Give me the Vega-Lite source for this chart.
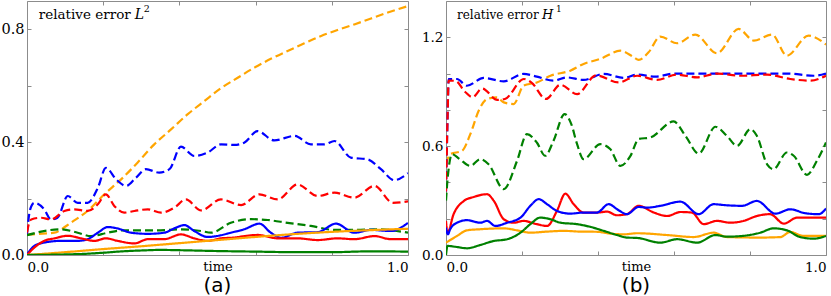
{
"$schema":"https://vega.github.io/schema/vega-lite/v6.json",
"padding":{"left":0,"top":0,"right":0,"bottom":0},
"background":"white",
"config":{"view":{"stroke":"#8c8c8c","strokeWidth":1},"font":"DejaVu Serif",
"axis":{"domain":false,"grid":false,"tickColor":"#8c8c8c","tickSize":-4,"labelColor":"black","labelFont":"DejaVu Serif","titleFont":"DejaVu Serif"},
"title":{"font":"DejaVu Sans","fontSize":20,"fontWeight":"normal","orient":"bottom","color":"black","offset":2},
"concat":{"spacing":10}},
"datasets":{
"a":[
{"k":"od","t":0,"v":0.073},{"k":"od","t":0.01,"v":0.073},{"k":"od","t":0.04,"v":0.076},{"k":"od","t":0.072,"v":0.079},{"k":"od","t":0.1,"v":0.1},{"k":"od","t":0.115,"v":0.114},{"k":"od","t":0.159,"v":0.156},{"k":"od","t":0.203,"v":0.215},{"k":"od","t":0.247,"v":0.268},{"k":"od","t":0.29,"v":0.327},{"k":"od","t":0.334,"v":0.392},{"k":"od","t":0.378,"v":0.445},{"k":"od","t":0.422,"v":0.499},{"k":"od","t":0.466,"v":0.546},{"k":"od","t":0.509,"v":0.591},{"k":"od","t":0.553,"v":0.628},{"k":"od","t":0.597,"v":0.664},{"k":"od","t":0.64,"v":0.695},{"k":"od","t":0.684,"v":0.723},{"k":"od","t":0.728,"v":0.75},{"k":"od","t":0.772,"v":0.776},{"k":"od","t":0.815,"v":0.797},{"k":"od","t":0.859,"v":0.817},{"k":"od","t":0.903,"v":0.838},{"k":"od","t":0.947,"v":0.859},{"k":"od","t":1,"v":0.882},
{"k":"bd","t":0,"v":0.075},{"k":"bd","t":0.008,"v":0.16},{"k":"bd","t":0.019,"v":0.185},{"k":"bd","t":0.045,"v":0.162},{"k":"bd","t":0.063,"v":0.126},{"k":"bd","t":0.08,"v":0.132},{"k":"bd","t":0.107,"v":0.209},{"k":"bd","t":0.133,"v":0.185},{"k":"bd","t":0.159,"v":0.185},{"k":"bd","t":0.186,"v":0.238},{"k":"bd","t":0.207,"v":0.309},{"k":"bd","t":0.234,"v":0.268},{"k":"bd","t":0.26,"v":0.245},{"k":"bd","t":0.286,"v":0.274},{"k":"bd","t":0.312,"v":0.304},{"k":"bd","t":0.347,"v":0.292},{"k":"bd","t":0.374,"v":0.304},{"k":"bd","t":0.404,"v":0.384},{"k":"bd","t":0.439,"v":0.351},{"k":"bd","t":0.474,"v":0.363},{"k":"bd","t":0.509,"v":0.392},{"k":"bd","t":0.544,"v":0.39},{"k":"bd","t":0.57,"v":0.398},{"k":"bd","t":0.605,"v":0.439},{"k":"bd","t":0.649,"v":0.406},{"k":"bd","t":0.702,"v":0.422},{"k":"bd","t":0.745,"v":0.392},{"k":"bd","t":0.78,"v":0.392},{"k":"bd","t":0.807,"v":0.404},{"k":"bd","t":0.85,"v":0.345},{"k":"bd","t":0.894,"v":0.339},{"k":"bd","t":0.929,"v":0.304},{"k":"bd","t":0.964,"v":0.265},{"k":"bd","t":0.99,"v":0.28},{"k":"bd","t":1,"v":0.29},
{"k":"rd","t":0,"v":0.08},{"k":"rd","t":0.006,"v":0.115},{"k":"rd","t":0.011,"v":0.126},{"k":"rd","t":0.037,"v":0.132},{"k":"rd","t":0.063,"v":0.126},{"k":"rd","t":0.098,"v":0.156},{"k":"rd","t":0.124,"v":0.162},{"k":"rd","t":0.159,"v":0.156},{"k":"rd","t":0.186,"v":0.18},{"k":"rd","t":0.207,"v":0.215},{"k":"rd","t":0.229,"v":0.174},{"k":"rd","t":0.255,"v":0.15},{"k":"rd","t":0.282,"v":0.156},{"k":"rd","t":0.317,"v":0.162},{"k":"rd","t":0.352,"v":0.15},{"k":"rd","t":0.387,"v":0.168},{"k":"rd","t":0.417,"v":0.197},{"k":"rd","t":0.457,"v":0.158},{"k":"rd","t":0.509,"v":0.197},{"k":"rd","t":0.562,"v":0.177},{"k":"rd","t":0.61,"v":0.215},{"k":"rd","t":0.658,"v":0.197},{"k":"rd","t":0.71,"v":0.25},{"k":"rd","t":0.763,"v":0.209},{"k":"rd","t":0.807,"v":0.221},{"k":"rd","t":0.859,"v":0.203},{"k":"rd","t":0.912,"v":0.245},{"k":"rd","t":0.96,"v":0.185},{"k":"rd","t":1,"v":0.19},
{"k":"gd","t":0,"v":0.07},{"k":"gd","t":0.037,"v":0.083},{"k":"gd","t":0.089,"v":0.091},{"k":"gd","t":0.133,"v":0.079},{"k":"gd","t":0.168,"v":0.067},{"k":"gd","t":0.212,"v":0.079},{"k":"gd","t":0.247,"v":0.087},{"k":"gd","t":0.334,"v":0.087},{"k":"gd","t":0.404,"v":0.091},{"k":"gd","t":0.457,"v":0.085},{"k":"gd","t":0.483,"v":0.079},{"k":"gd","t":0.535,"v":0.114},{"k":"gd","t":0.588,"v":0.127},{"k":"gd","t":0.632,"v":0.124},{"k":"gd","t":0.684,"v":0.114},{"k":"gd","t":0.745,"v":0.103},{"k":"gd","t":0.807,"v":0.089},{"k":"gd","t":0.859,"v":0.089},{"k":"gd","t":0.92,"v":0.091},{"k":"gd","t":1,"v":0.079},
{"k":"bs","t":0,"v":0.002},{"k":"bs","t":0.019,"v":0.032},{"k":"bs","t":0.045,"v":0.044},{"k":"bs","t":0.089,"v":0.05},{"k":"bs","t":0.133,"v":0.05},{"k":"bs","t":0.159,"v":0.056},{"k":"bs","t":0.186,"v":0.079},{"k":"bs","t":0.212,"v":0.099},{"k":"bs","t":0.238,"v":0.094},{"k":"bs","t":0.273,"v":0.079},{"k":"bs","t":0.317,"v":0.075},{"k":"bs","t":0.36,"v":0.079},{"k":"bs","t":0.391,"v":0.097},{"k":"bs","t":0.413,"v":0.106},{"k":"bs","t":0.439,"v":0.085},{"k":"bs","t":0.474,"v":0.064},{"k":"bs","t":0.509,"v":0.07},{"k":"bs","t":0.535,"v":0.079},{"k":"bs","t":0.57,"v":0.091},{"k":"bs","t":0.61,"v":0.111},{"k":"bs","t":0.64,"v":0.079},{"k":"bs","t":0.667,"v":0.061},{"k":"bs","t":0.71,"v":0.079},{"k":"bs","t":0.763,"v":0.081},{"k":"bs","t":0.811,"v":0.111},{"k":"bs","t":0.859,"v":0.079},{"k":"bs","t":0.903,"v":0.089},{"k":"bs","t":0.955,"v":0.085},{"k":"bs","t":1,"v":0.114},
{"k":"rs","t":0,"v":0},{"k":"rs","t":0.019,"v":0.026},{"k":"rs","t":0.045,"v":0.05},{"k":"rs","t":0.072,"v":0.059},{"k":"rs","t":0.107,"v":0.068},{"k":"rs","t":0.142,"v":0.059},{"k":"rs","t":0.177,"v":0.05},{"k":"rs","t":0.207,"v":0.059},{"k":"rs","t":0.238,"v":0.05},{"k":"rs","t":0.282,"v":0.041},{"k":"rs","t":0.317,"v":0.056},{"k":"rs","t":0.36,"v":0.056},{"k":"rs","t":0.404,"v":0.073},{"k":"rs","t":0.439,"v":0.059},{"k":"rs","t":0.474,"v":0.05},{"k":"rs","t":0.509,"v":0.059},{"k":"rs","t":0.535,"v":0.061},{"k":"rs","t":0.605,"v":0.071},{"k":"rs","t":0.658,"v":0.059},{"k":"rs","t":0.71,"v":0.059},{"k":"rs","t":0.763,"v":0.053},{"k":"rs","t":0.815,"v":0.059},{"k":"rs","t":0.859,"v":0.056},{"k":"rs","t":0.912,"v":0.067},{"k":"rs","t":0.955,"v":0.056},{"k":"rs","t":1,"v":0.056},
{"k":"os","t":0,"v":0},{"k":"os","t":0.1,"v":0.01},{"k":"os","t":0.2,"v":0.021},{"k":"os","t":0.3,"v":0.031},{"k":"os","t":0.4,"v":0.042},{"k":"os","t":0.5,"v":0.053},{"k":"os","t":0.6,"v":0.064},{"k":"os","t":0.7,"v":0.074},{"k":"os","t":0.8,"v":0.082},{"k":"os","t":0.9,"v":0.088},{"k":"os","t":1,"v":0.093},
{"k":"gs","t":0,"v":0},{"k":"gs","t":0.1,"v":0.002},{"k":"gs","t":0.15,"v":0.004},{"k":"gs","t":0.2,"v":0.008},{"k":"gs","t":0.25,"v":0.013},{"k":"gs","t":0.3,"v":0.016},{"k":"gs","t":0.35,"v":0.018},{"k":"gs","t":0.4,"v":0.017},{"k":"gs","t":0.5,"v":0.014},{"k":"gs","t":0.6,"v":0.012},{"k":"gs","t":0.7,"v":0.01},{"k":"gs","t":0.8,"v":0.01},{"k":"gs","t":0.9,"v":0.013},{"k":"gs","t":1,"v":0.012}
],
"b":[
{"k":"od","t":0,"v":0.5},{"k":"od","t":0.011,"v":0.556},{"k":"od","t":0.042,"v":0.574},{"k":"od","t":0.064,"v":0.666},{"k":"od","t":0.086,"v":0.795},{"k":"od","t":0.108,"v":0.86},{"k":"od","t":0.134,"v":0.869},{"k":"od","t":0.152,"v":0.841},{"k":"od","t":0.178,"v":0.832},{"k":"od","t":0.204,"v":0.933},{"k":"od","t":0.239,"v":0.951},{"k":"od","t":0.275,"v":0.988},{"k":"od","t":0.327,"v":1.016},{"k":"od","t":0.362,"v":1.053},{"k":"od","t":0.406,"v":1.081},{"k":"od","t":0.459,"v":1.126},{"k":"od","t":0.494,"v":1.09},{"k":"od","t":0.507,"v":1.075},{"k":"od","t":0.533,"v":1.117},{"k":"od","t":0.564,"v":1.204},{"k":"od","t":0.608,"v":1.167},{"k":"od","t":0.656,"v":1.215},{"k":"od","t":0.713,"v":1.112},{"k":"od","t":0.77,"v":1.246},{"k":"od","t":0.81,"v":1.182},{"k":"od","t":0.858,"v":1.215},{"k":"od","t":0.897,"v":1.099},{"k":"od","t":0.954,"v":1.209},{"k":"od","t":1,"v":1.16},
{"k":"bd","t":0,"v":0.35},{"k":"bd","t":0.004,"v":0.75},{"k":"bd","t":0.007,"v":0.97},{"k":"bd","t":0.029,"v":0.97},{"k":"bd","t":0.055,"v":0.933},{"k":"bd","t":0.099,"v":0.976},{"k":"bd","t":0.152,"v":0.957},{"k":"bd","t":0.204,"v":0.998},{"k":"bd","t":0.239,"v":0.983},{"k":"bd","t":0.283,"v":0.961},{"k":"bd","t":0.318,"v":0.979},{"k":"bd","t":0.362,"v":0.965},{"k":"bd","t":0.415,"v":0.998},{"k":"bd","t":0.468,"v":0.976},{"k":"bd","t":0.503,"v":0.994},{"k":"bd","t":0.551,"v":0.983},{"k":"bd","t":0.6,"v":1.0},{"k":"bd","t":0.7,"v":1.0},{"k":"bd","t":0.8,"v":1.0},{"k":"bd","t":0.9,"v":1.0},{"k":"bd","t":0.968,"v":0.988},{"k":"bd","t":1,"v":1.0},
{"k":"rd","t":0,"v":0.35},{"k":"rd","t":0.004,"v":0.75},{"k":"rd","t":0.007,"v":0.961},{"k":"rd","t":0.025,"v":0.96},{"k":"rd","t":0.05,"v":0.9},{"k":"rd","t":0.07,"v":0.87},{"k":"rd","t":0.095,"v":0.918},{"k":"rd","t":0.135,"v":0.855},{"k":"rd","t":0.155,"v":0.86},{"k":"rd","t":0.205,"v":0.97},{"k":"rd","t":0.225,"v":0.95},{"k":"rd","t":0.263,"v":0.86},{"k":"rd","t":0.301,"v":0.938},{"k":"rd","t":0.345,"v":0.887},{"k":"rd","t":0.395,"v":0.99},{"k":"rd","t":0.454,"v":0.951},{"k":"rd","t":0.503,"v":0.988},{"k":"rd","t":0.555,"v":0.965},{"k":"rd","t":0.608,"v":0.994},{"k":"rd","t":0.661,"v":0.979},{"k":"rd","t":0.713,"v":1.0},{"k":"rd","t":0.775,"v":0.988},{"k":"rd","t":0.845,"v":0.994},{"k":"rd","t":0.906,"v":0.97},{"k":"rd","t":0.959,"v":0.961},{"k":"rd","t":1,"v":0.988},
{"k":"gd","t":0,"v":0.3},{"k":"gd","t":0.003,"v":0.39},{"k":"gd","t":0.016,"v":0.556},{"k":"gd","t":0.035,"v":0.53},{"k":"gd","t":0.064,"v":0.491},{"k":"gd","t":0.09,"v":0.528},{"k":"gd","t":0.112,"v":0.5},{"k":"gd","t":0.152,"v":0.363},{"k":"gd","t":0.187,"v":0.519},{"k":"gd","t":0.213,"v":0.666},{"k":"gd","t":0.239,"v":0.62},{"k":"gd","t":0.261,"v":0.547},{"k":"gd","t":0.283,"v":0.63},{"k":"gd","t":0.312,"v":0.777},{"k":"gd","t":0.33,"v":0.72},{"k":"gd","t":0.345,"v":0.611},{"k":"gd","t":0.362,"v":0.528},{"k":"gd","t":0.406,"v":0.611},{"k":"gd","t":0.432,"v":0.584},{"k":"gd","t":0.459,"v":0.491},{"k":"gd","t":0.485,"v":0.545},{"k":"gd","t":0.507,"v":0.639},{"k":"gd","t":0.538,"v":0.648},{"k":"gd","t":0.599,"v":0.736},{"k":"gd","t":0.63,"v":0.657},{"k":"gd","t":0.665,"v":0.559},{"k":"gd","t":0.709,"v":0.707},{"k":"gd","t":0.739,"v":0.657},{"k":"gd","t":0.766,"v":0.602},{"k":"gd","t":0.801,"v":0.694},{"k":"gd","t":0.818,"v":0.657},{"k":"gd","t":0.845,"v":0.5},{"k":"gd","t":0.862,"v":0.473},{"k":"gd","t":0.897,"v":0.565},{"k":"gd","t":0.915,"v":0.547},{"k":"gd","t":0.95,"v":0.442},{"k":"gd","t":0.976,"v":0.519},{"k":"gd","t":1,"v":0.62},
{"k":"rs","t":0,"v":0.188},{"k":"rs","t":0.004,"v":0.123},{"k":"rs","t":0.02,"v":0.225},{"k":"rs","t":0.047,"v":0.298},{"k":"rs","t":0.073,"v":0.32},{"k":"rs","t":0.108,"v":0.335},{"k":"rs","t":0.126,"v":0.298},{"k":"rs","t":0.152,"v":0.197},{"k":"rs","t":0.178,"v":0.178},{"k":"rs","t":0.204,"v":0.188},{"k":"rs","t":0.239,"v":0.17},{"k":"rs","t":0.266,"v":0.16},{"k":"rs","t":0.292,"v":0.243},{"k":"rs","t":0.314,"v":0.338},{"k":"rs","t":0.336,"v":0.28},{"k":"rs","t":0.362,"v":0.234},{"k":"rs","t":0.397,"v":0.234},{"k":"rs","t":0.424,"v":0.239},{"k":"rs","t":0.45,"v":0.219},{"k":"rs","t":0.476,"v":0.225},{"k":"rs","t":0.507,"v":0.271},{"k":"rs","t":0.547,"v":0.234},{"k":"rs","t":0.582,"v":0.215},{"k":"rs","t":0.617,"v":0.237},{"k":"rs","t":0.647,"v":0.234},{"k":"rs","t":0.678,"v":0.17},{"k":"rs","t":0.713,"v":0.188},{"k":"rs","t":0.748,"v":0.178},{"k":"rs","t":0.783,"v":0.188},{"k":"rs","t":0.818,"v":0.215},{"k":"rs","t":0.853,"v":0.225},{"k":"rs","t":0.889,"v":0.173},{"k":"rs","t":0.924,"v":0.206},{"k":"rs","t":0.968,"v":0.206},{"k":"rs","t":1,"v":0.206},
{"k":"bs","t":0,"v":0.15},{"k":"bs","t":0.005,"v":0.114},{"k":"bs","t":0.011,"v":0.142},{"k":"bs","t":0.029,"v":0.178},{"k":"bs","t":0.055,"v":0.192},{"k":"bs","t":0.09,"v":0.178},{"k":"bs","t":0.108,"v":0.188},{"k":"bs","t":0.13,"v":0.16},{"k":"bs","t":0.161,"v":0.178},{"k":"bs","t":0.196,"v":0.206},{"k":"bs","t":0.222,"v":0.271},{"k":"bs","t":0.244,"v":0.308},{"k":"bs","t":0.266,"v":0.28},{"k":"bs","t":0.292,"v":0.243},{"k":"bs","t":0.327,"v":0.228},{"k":"bs","t":0.362,"v":0.234},{"k":"bs","t":0.397,"v":0.234},{"k":"bs","t":0.428,"v":0.28},{"k":"bs","t":0.454,"v":0.247},{"k":"bs","t":0.476,"v":0.225},{"k":"bs","t":0.507,"v":0.265},{"k":"bs","t":0.529,"v":0.261},{"k":"bs","t":0.564,"v":0.271},{"k":"bs","t":0.617,"v":0.294},{"k":"bs","t":0.665,"v":0.225},{"k":"bs","t":0.704,"v":0.28},{"k":"bs","t":0.739,"v":0.274},{"k":"bs","t":0.779,"v":0.271},{"k":"bs","t":0.818,"v":0.298},{"k":"bs","t":0.867,"v":0.228},{"k":"bs","t":0.906,"v":0.252},{"k":"bs","t":0.946,"v":0.23},{"k":"bs","t":0.981,"v":0.225},{"k":"bs","t":1,"v":0.256},
{"k":"os","t":0,"v":0.068},{"k":"os","t":0.029,"v":0.105},{"k":"os","t":0.055,"v":0.136},{"k":"os","t":0.09,"v":0.142},{"k":"os","t":0.152,"v":0.147},{"k":"os","t":0.187,"v":0.136},{"k":"os","t":0.222,"v":0.123},{"k":"os","t":0.266,"v":0.129},{"k":"os","t":0.31,"v":0.133},{"k":"os","t":0.353,"v":0.129},{"k":"os","t":0.397,"v":0.128},{"k":"os","t":0.432,"v":0.118},{"k":"os","t":0.468,"v":0.114},{"k":"os","t":0.503,"v":0.12},{"k":"os","t":0.582,"v":0.11},{"k":"os","t":0.652,"v":0.099},{"k":"os","t":0.704,"v":0.123},{"k":"os","t":0.739,"v":0.099},{"k":"os","t":0.827,"v":0.096},{"k":"os","t":0.88,"v":0.099},{"k":"os","t":0.906,"v":0.127},{"k":"os","t":0.941,"v":0.105},{"k":"os","t":1,"v":0.105},
{"k":"gs","t":0,"v":0},{"k":"gs","t":0.004,"v":0.05},{"k":"gs","t":0.029,"v":0.044},{"k":"gs","t":0.055,"v":0.037},{"k":"gs","t":0.09,"v":0.055},{"k":"gs","t":0.125,"v":0.077},{"k":"gs","t":0.161,"v":0.087},{"k":"gs","t":0.196,"v":0.123},{"k":"gs","t":0.222,"v":0.17},{"k":"gs","t":0.248,"v":0.206},{"k":"gs","t":0.275,"v":0.197},{"k":"gs","t":0.301,"v":0.178},{"k":"gs","t":0.345,"v":0.17},{"k":"gs","t":0.38,"v":0.155},{"k":"gs","t":0.415,"v":0.133},{"k":"gs","t":0.45,"v":0.11},{"k":"gs","t":0.476,"v":0.096},{"k":"gs","t":0.503,"v":0.094},{"k":"gs","t":0.564,"v":0.068},{"k":"gs","t":0.608,"v":0.087},{"k":"gs","t":0.661,"v":0.068},{"k":"gs","t":0.709,"v":0.11},{"k":"gs","t":0.739,"v":0.101},{"k":"gs","t":0.78,"v":0.105},{"k":"gs","t":0.827,"v":0.123},{"k":"gs","t":0.862,"v":0.147},{"k":"gs","t":0.897,"v":0.136},{"k":"gs","t":0.932,"v":0.099},{"k":"gs","t":0.968,"v":0.09},{"k":"gs","t":1,"v":0.105}
]},
"hconcat":[
{"width":381,"height":254,"title":{"text":"(a)"},
"resolve":{"axis":{"x":"independent","y":"independent"}},
"layer":[
{"data":{"name":"a"},"mark":{"type":"line","strokeWidth":2.2,"interpolate":"monotone","clip":true},
"encoding":{
"x":{"field":"t","type":"quantitative","scale":{"domain":[0,1],"nice":false},
"axis":{"title":"time","titleFontSize":13,"titleFontWeight":"normal","titleY":5,"titleBaseline":"top","values":[0,0.2,0.4,0.6,0.8,1],"labelExpr":"datum.value==0||datum.value==1?format(datum.value,'.1f'):''","labelFlush":true,"labelPadding":9,"labelFontSize":13.5,"labelBaseline":"top"}},
"y":{"field":"v","type":"quantitative","scale":{"domain":[0,0.9],"nice":false},
"axis":{"title":null,"values":[0,0.2,0.4,0.6,0.8],"labelExpr":"datum.value==0||datum.value==0.4||datum.value==0.8?format(datum.value,'.1f'):''","labelPadding":7,"labelFontSize":14.5,"minExtent":26,"maxExtent":26}},
"color":{"field":"k","type":"nominal","legend":null,"scale":{"domain":["os","gs","rs","bs","od","gd","rd","bd"],"range":["#FFA500","#008000","#FF0000","#0000FF","#FFA500","#008000","#FF0000","#0000FF"]}},
"strokeDash":{"field":"k","type":"nominal","legend":null,"scale":{"domain":["os","gs","rs","bs","od","gd","rd","bd"],"range":[[1,0],[1,0],[1,0],[1,0],[8,4],[8,4],[8,4],[8,4]]}}}},
{"data":{"values":[{"t":0.031,"v":0.836,"s":"relative error"}]},"mark":{"type":"text","align":"left","baseline":"alphabetic","fontSize":13.5,"font":"DejaVu Serif","color":"black"},
"encoding":{"x":{"field":"t","type":"quantitative","axis":{"orient":"top","title":null,"labels":false,"values":[0,0.2,0.4,0.6,0.8,1],"minExtent":0,"maxExtent":0}},"y":{"field":"v","type":"quantitative","axis":{"orient":"right","title":null,"labels":false,"values":[0,0.2,0.4,0.6,0.8],"minExtent":0,"maxExtent":0}},"text":{"field":"s"}}},
{"data":{"values":[{"t":0.031,"v":0.836,"s":"L"}]},"mark":{"type":"text","align":"left","baseline":"alphabetic","fontSize":14,"font":"DejaVu Serif","fontStyle":"italic","color":"black","dx":96},
"encoding":{"x":{"field":"t","type":"quantitative","axis":null},"y":{"field":"v","type":"quantitative","axis":null},"text":{"field":"s"}}},
{"data":{"values":[{"t":0.031,"v":0.836,"s":"2"}]},"mark":{"type":"text","align":"left","baseline":"alphabetic","fontSize":9.5,"font":"DejaVu Serif","color":"black","dx":105,"dy":-7},
"encoding":{"x":{"field":"t","type":"quantitative","axis":null},"y":{"field":"v","type":"quantitative","axis":null},"text":{"field":"s"}}}
]},
{"width":380,"height":254,"title":{"text":"(b)"},
"resolve":{"axis":{"x":"independent","y":"independent"}},
"layer":[
{"data":{"name":"b"},"mark":{"type":"line","strokeWidth":2.2,"interpolate":"monotone","clip":true},
"encoding":{
"x":{"field":"t","type":"quantitative","scale":{"domain":[0,1],"nice":false},
"axis":{"title":"time","titleFontSize":13,"titleFontWeight":"normal","titleY":5,"titleBaseline":"top","values":[0,0.2,0.4,0.6,0.8,1],"labelExpr":"datum.value==0||datum.value==1?format(datum.value,'.1f'):''","labelFlush":true,"labelPadding":9,"labelFontSize":13.5,"labelBaseline":"top"}},
"y":{"field":"v","type":"quantitative","scale":{"domain":[0,1.4],"nice":false},
"axis":{"title":null,"values":[0,0.2,0.4,0.6,0.8,1.0,1.2],"labelExpr":"datum.value==0||datum.value==0.6||datum.value==1.2?format(datum.value,'.1f'):''","labelPadding":7,"labelFontSize":13.6,"minExtent":26,"maxExtent":26}},
"color":{"field":"k","type":"nominal","legend":null,"scale":{"domain":["os","gs","rs","bs","od","gd","rd","bd"],"range":["#FFA500","#008000","#FF0000","#0000FF","#FFA500","#008000","#FF0000","#0000FF"]}},
"strokeDash":{"field":"k","type":"nominal","legend":null,"scale":{"domain":["os","gs","rs","bs","od","gd","rd","bd"],"range":[[1,0],[1,0],[1,0],[1,0],[8,4],[8,4],[8,4],[8,4]]}}}},
{"data":{"values":[{"t":0.029,"v":1.303,"s":"relative error"}]},"mark":{"type":"text","align":"left","baseline":"alphabetic","fontSize":12,"font":"DejaVu Serif","color":"black"},
"encoding":{"x":{"field":"t","type":"quantitative","axis":{"orient":"top","title":null,"labels":false,"values":[0,0.2,0.4,0.6,0.8,1],"minExtent":0,"maxExtent":0}},"y":{"field":"v","type":"quantitative","axis":{"orient":"right","title":null,"labels":false,"values":[0,0.2,0.4,0.6,0.8,1.0,1.2],"minExtent":0,"maxExtent":0}},"text":{"field":"s"}}},
{"data":{"values":[{"t":0.029,"v":1.303,"s":"H"}]},"mark":{"type":"text","align":"left","baseline":"alphabetic","fontSize":13,"font":"DejaVu Serif","fontStyle":"italic","color":"black","dx":85},
"encoding":{"x":{"field":"t","type":"quantitative","axis":null},"y":{"field":"v","type":"quantitative","axis":null},"text":{"field":"s"}}},
{"data":{"values":[{"t":0.029,"v":1.303,"s":"1"}]},"mark":{"type":"text","align":"left","baseline":"alphabetic","fontSize":9,"font":"DejaVu Serif","color":"black","dx":99,"dy":-7},
"encoding":{"x":{"field":"t","type":"quantitative","axis":null},"y":{"field":"v","type":"quantitative","axis":null},"text":{"field":"s"}}}
]}
]
}
